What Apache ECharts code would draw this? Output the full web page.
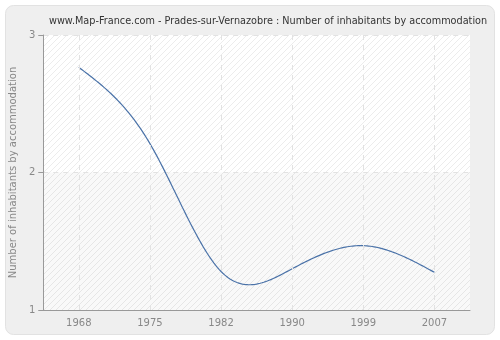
<!DOCTYPE html>
<html>
<head>
<meta charset="utf-8">
<script src="https://cdn.jsdelivr.net/npm/echarts@6/dist/echarts.min.js"></script>
<style>html,body{margin:0;padding:0;background:#fff;}#c{width:500px;height:340px;}</style>
</head>
<body>
<div id="c"></div>
<script>
const titleText = 'www.Map-France.com - Prades-sur-Vernazobre : Number of inhabitants by accommodation';
const yAxisName = 'Number of inhabitants by accommodation';
const years = ['1968', '1975', '1982', '1990', '1999', '2007'];
const values = [2.765, 2.21, 1.28, 1.30, 1.468, 1.274];
const yTicks = [1, 2, 3];

const pc = document.createElement('canvas');
pc.width = 6; pc.height = 6;
const g = pc.getContext('2d');
g.fillStyle = '#ffffff';
g.fillRect(0, 0, 6, 6);
g.strokeStyle = '#ececec';
g.lineWidth = 1;
for (let k = -6; k <= 12; k += 6) {
  g.beginPath();
  g.moveTo(k, 6);
  g.lineTo(k + 6, 0);
  g.stroke();
}

// natural cubic spline through pixel points (computed from the axes)
function splinePoints(pts) {
  const n = pts.length;
  const xs = pts.map(p => p[0]), ys = pts.map(p => p[1]);
  const h = [], al = [], l = [1], mu = [0], z = [0], c = new Array(n).fill(0), b = [], d = [];
  for (let i = 0; i < n - 1; i++) h.push(xs[i + 1] - xs[i]);
  for (let i = 1; i < n - 1; i++) al[i] = 3 / h[i] * (ys[i + 1] - ys[i]) - 3 / h[i - 1] * (ys[i] - ys[i - 1]);
  for (let i = 1; i < n - 1; i++) {
    l[i] = 2 * (xs[i + 1] - xs[i - 1]) - h[i - 1] * mu[i - 1];
    mu[i] = h[i] / l[i];
    z[i] = (al[i] - h[i - 1] * z[i - 1]) / l[i];
  }
  l[n - 1] = 1; z[n - 1] = 0; c[n - 1] = 0;
  for (let j = n - 2; j >= 0; j--) {
    c[j] = z[j] - mu[j] * c[j + 1];
    b[j] = (ys[j + 1] - ys[j]) / h[j] - h[j] * (c[j + 1] + 2 * c[j]) / 3;
    d[j] = (c[j + 1] - c[j]) / (3 * h[j]);
  }
  const out = [];
  for (let j = 0; j < n - 1; j++) {
    const steps = 40;
    for (let s = 0; s < steps; s++) {
      const t = h[j] * s / steps;
      out.push([xs[j] + t, ys[j] + b[j] * t + c[j] * t * t + d[j] * t * t * t]);
    }
  }
  out.push([xs[n - 1], ys[n - 1]]);
  return out;
}

const chart = echarts.init(document.getElementById('c'), null, {renderer: 'canvas'});
chart.setOption({
  animation: false,
  backgroundColor: '#ffffff',
  graphic: [{
    type: 'rect', z: -10, silent: true,
    shape: {x: 5.5, y: 5.5, width: 489, height: 329, r: 8},
    style: {fill: '#efefef', stroke: '#e2e2e2', lineWidth: 1}
  }],
  title: {
    text: titleText, left: 44, top: 11,
    textStyle: {fontFamily: 'DejaVu Sans', fontSize: 9.7, fontWeight: 'normal', color: '#333'}
  },
  grid: {
    left: 40, right: 30, top: 35, bottom: 30, show: true,
    backgroundColor: {image: pc, repeat: 'repeat'}, borderWidth: 0
  },
  xAxis: {
    type: 'category', data: years, boundaryGap: true,
    axisLine: {lineStyle: {color: '#999'}},
    axisTick: {alignWithLabel: true, length: 5, lineStyle: {color: '#999'}},
    axisLabel: {color: '#888', fontFamily: 'DejaVu Sans', fontSize: 10, margin: 8},
    splitLine: {show: false}
  },
  yAxis: {
    type: 'value', min: yTicks[0], max: yTicks[yTicks.length - 1], interval: 1,
    name: yAxisName, nameLocation: 'middle', nameGap: 25,
    nameTextStyle: {color: '#888', fontFamily: 'DejaVu Sans', fontSize: 10},
    axisLine: {show: true, lineStyle: {color: '#999'}},
    axisTick: {show: true, length: 5, lineStyle: {color: '#999'}},
    axisLabel: {color: '#888', fontFamily: 'DejaVu Sans', fontSize: 10, margin: 8},
    splitLine: {show: true, lineStyle: {color: '#e2e2e2', type: [5, 5]}},
    splitArea: {show: true, areaStyle: {color: ['rgba(0,0,0,0.025)', 'rgba(0,0,0,0)']}}
  },
  series: [{
    type: 'line', data: values.map(() => null), silent: true, showSymbol: false,
    markLine: {
      silent: true, symbol: 'none', label: {show: false},
      lineStyle: {color: '#e2e2e2', type: [5, 5], width: 1},
      data: years.map(y => ({xAxis: y}))
    }
  }, {
    type: 'custom', coordinateSystem: 'cartesian2d', silent: true,
    data: [[0, values[0]]],
    renderItem: function (params, api) {
      const pts = values.map((v, i) => api.coord([i, v]));
      return {
        type: 'polyline',
        shape: {points: splinePoints(pts), smooth: 0},
        style: {stroke: '#4a72a8', lineWidth: 1.2, fill: null}
      };
    }
  }]
});
</script>
</body>
</html>
